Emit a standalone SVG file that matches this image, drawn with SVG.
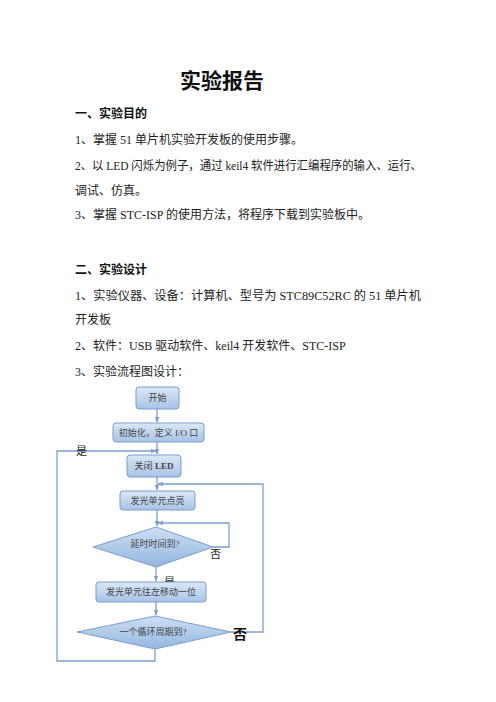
<svg xmlns="http://www.w3.org/2000/svg" width="496" height="702" viewBox="0 0 496 702">
<defs>
<linearGradient id="gb" x1="0" y1="0" x2="0" y2="1">
<stop offset="0" stop-color="#dbe7f6"/>
<stop offset="1" stop-color="#a7c3e6"/>
</linearGradient>
<linearGradient id="gd" x1="0" y1="0" x2="0" y2="1">
<stop offset="0" stop-color="#cddff3"/>
<stop offset="1" stop-color="#94b6e0"/>
</linearGradient>
<marker id="ar" viewBox="0 0 10 10" refX="9" refY="5" markerWidth="6" markerHeight="6" orient="auto" markerUnits="userSpaceOnUse">
<path d="M0,1 L10,5 L0,9 z" fill="#7f9fcd"/>
</marker>
<style>
.t{font-family:"Liberation Serif","Noto Sans CJK SC",serif;font-size:12px;fill:#222}
.h{font-family:"Liberation Serif","Noto Sans CJK SC",sans-serif;font-size:12px;font-weight:bold;fill:#111}
.ti{font-family:"Liberation Serif","Noto Sans CJK SC",sans-serif;font-size:21px;font-weight:bold;fill:#111}
.box{fill:url(#gb);stroke:#7d9dca;stroke-width:1}
.dia{fill:url(#gd);stroke:#7d9dca;stroke-width:1}
.ft{font-family:"Liberation Serif","Noto Sans CJK SC",serif;font-size:9px;fill:#444;text-anchor:middle}
.ln{fill:none;stroke:#7f9fcd;stroke-width:1.3}
.lb{font-family:"Liberation Serif","Noto Sans CJK SC",serif;font-size:11px;fill:#222}
</style>
</defs>
<rect width="496" height="702" fill="#ffffff"/>
<g id="text">
<text class="ti" x="222" y="88" text-anchor="middle">实验报告</text>
<text class="h" x="75" y="118">一、实验目的</text>
<text class="t" x="75" y="144">1、掌握 51 单片机实验开发板的使用步骤。</text>
<text class="t" x="75" y="170" textLength="347" lengthAdjust="spacingAndGlyphs">2、以 LED 闪烁为例子，通过 keil4 软件进行汇编程序的输入、运行、</text>
<text class="t" x="75" y="195">调试、仿真。</text>
<text class="t" x="75" y="219">3、掌握 STC-ISP 的使用方法，将程序下载到实验板中。</text>
<text class="h" x="75" y="274">二、实验设计</text>
<text class="t" x="75" y="300" textLength="346" lengthAdjust="spacingAndGlyphs">1、实验仪器、设备：计算机、型号为 STC89C52RC 的 51 单片机</text>
<text class="t" x="75" y="324">开发板</text>
<text class="t" x="75" y="350">2、软件：USB 驱动软件、keil4 开发软件、STC-ISP</text>
<text class="t" x="75" y="376">3、实验流程图设计：</text>
</g>
<g id="connectors">
<path class="ln" d="M157,409 V422" marker-end="url(#ar)"/>
<path class="ln" d="M157,442 V454" marker-end="url(#ar)"/>
<path class="ln" d="M157,477 V490" marker-end="url(#ar)"/>
<path class="ln" d="M157,510 V526" marker-end="url(#ar)"/>
<path class="ln" d="M156,567 V581" marker-end="url(#ar)"/>
<path class="ln" d="M156,602 V615" marker-end="url(#ar)"/>
<path class="ln" d="M213,547 H229 V523 H158" marker-end="url(#ar)"/>
<path class="ln" d="M231,632 H263 V484 H158" marker-end="url(#ar)"/>
<path class="ln" d="M155,649 V661 H57 V451 H156" marker-end="url(#ar)"/>
</g>
<g id="labels">
<text class="lb" x="76" y="455">是</text>
<text class="lb" x="210" y="558">否</text>
<text class="lb" x="164" y="586">是</text>
<text class="h" x="233" y="639" style="font-size:14px">否</text>
</g>
<g id="n-start">
<rect class="box" x="136" y="387" width="43" height="22" rx="3"/>
<text class="ft" x="157.5" y="401">开始</text>
</g>
<g id="n-init">
<rect class="box" x="113" y="423" width="91" height="19" rx="3"/>
<text class="ft" x="158.5" y="436">初始化，定义 I/O 口</text>
</g>
<g id="n-off">
<rect class="box" x="127" y="455" width="54" height="22" rx="3"/>
<text class="ft" x="154" y="469">关闭 <tspan font-weight="bold">LED</tspan></text>
</g>
<g id="n-light">
<rect class="box" x="120" y="491" width="75" height="19" rx="3"/>
<text class="ft" x="157.5" y="504">发光单元点亮</text>
</g>
<g id="n-delay">
<polygon class="dia" points="93,547 156,527 213,547 156,567"/>
<text class="ft" x="155" y="547">延时时间到?</text>
</g>
<g id="n-shift">
<rect class="box" x="96" y="582" width="110" height="20" rx="3"/>
<text class="ft" x="151" y="595">发光单元往左移动一位</text>
</g>
<g id="n-cycle">
<polygon class="dia" points="77,632 155,616 231,632 155,649"/>
<text class="ft" x="153" y="635">一个循环周期到?</text>
</g>
</svg>
